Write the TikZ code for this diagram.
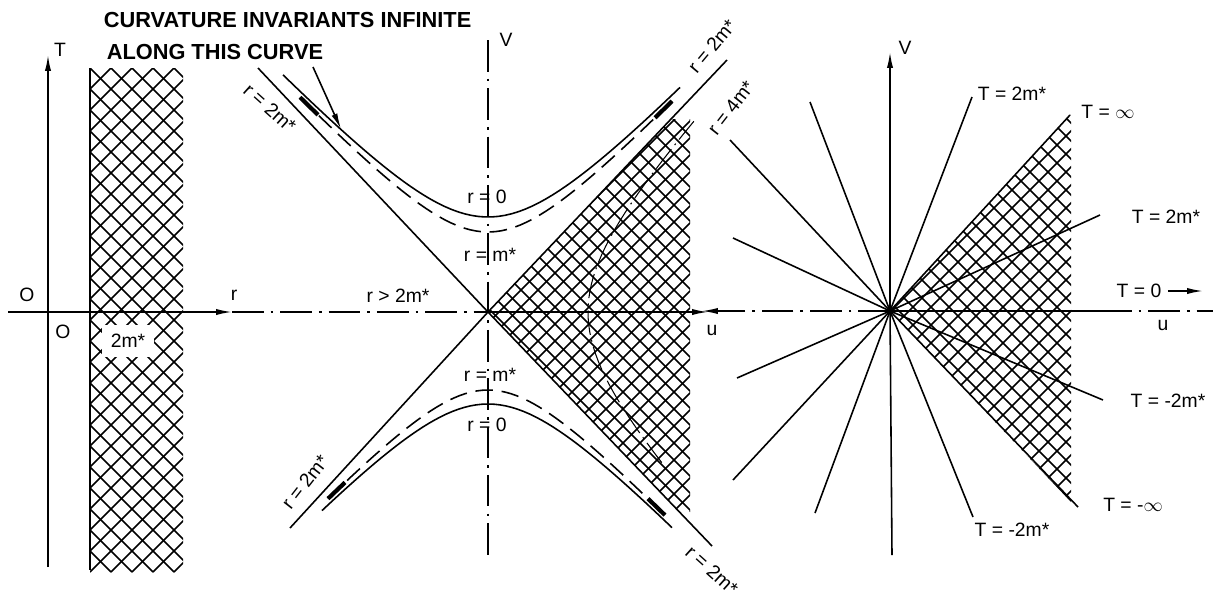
\documentclass[tikz,border=0pt]{standalone}
\usepackage{fontspec}
\setmainfont{Liberation Sans}
\usetikzlibrary{arrows.meta}

\tikzset{
  axisdd/.style={line width=0.8pt, dash pattern=on 18pt off 4pt on 1.5pt off 4pt},
  hatchline/.style={line width=0.85pt},
  hypdash/.style={dash pattern=on 10pt off 5pt},
  thinddash/.style={line width=0.6pt, dash pattern=on 14pt off 3pt on 1pt off 3pt},
  tipend/.style={line width=2.4pt},
  lbl/.style={font=\fontsize{11}{13}\selectfont, inner sep=1pt},
  ttl/.style={font=\fontsize{12.4}{14}\selectfont\bfseries, inner sep=0pt, anchor=west},
}

\begin{document}
\begin{tikzpicture}[x=0.02cm, y=-0.02cm, line width=0.9pt, >={Latex[length=9pt,width=3.5pt]}]
    \useasboundingbox (0,0) rectangle (1213,606);
    % Title and pointer
    \node[ttl] (ttl1) at (103,20) {CURVATURE INVARIANTS INFINITE};
    \node[ttl] (ttl2) at (106,52) {ALONG THIS CURVE};
    \coordinate (p1) at (313,67); \coordinate (c1) at (341,129);
    \draw[->] (p1) -- (c1);

    % Left panel: T against r
    \coordinate (Tb) at (48,567); \coordinate (Tt) at (48,55);
    \coordinate (rl) at (8,312); \coordinate (rr) at (232,312);
    \draw[->] (Tb) -- (Tt);
    \draw[->] (rl) -- (rr);
    \node[lbl] (Tlab) at (60,50) {T};
    \node[lbl] (Oa) at (27,295) {O};
    \node[lbl] (Ob) at (63,332) {O};
    \node[lbl] (rlab) at (234,295) {r};
    \begin{scope}
        \clip (90,68) rectangle (183,572);
        \foreach \c in {-482,-461,...,115} \draw[hatchline] (\c+68,68) -- (\c+572,572);
        \foreach \c in {158,179,...,760} \draw[hatchline] (\c-68,68) -- (\c-572,572);
    \end{scope}
    \draw (90,68) -- (90,570);
    \node[lbl, fill=white, inner sep=5pt] (two) at (128,341) {2m*};

    % Middle panel: u, V
    \coordinate (O1) at (488,312);
    \coordinate (A1) at (258,68); \coordinate (A2) at (727,60);
    \coordinate (A3) at (290,528); \coordinate (A4) at (712,546);
    \coordinate (Vt) at (488,40); \coordinate (Vb) at (488,555);
    \coordinate (ur) at (708,312);
    \begin{scope}
        \clip (O1) -- (671,119) -- (690,119) -- (690,512) -- (679,512) -- cycle;
        \foreach \c in {-24,-7,...,575} \draw[hatchline] (\c+119,119) -- (\c+512,512);
        \foreach \c in {607,624,...,1205} \draw[hatchline] (\c-119,119) -- (\c-512,512);
    \end{scope}
    \draw[axisdd] (rr) -- (O1);
    \draw[axisdd] (Vt) -- (Vb);
    \draw[->] (O1) -- (ur);
    \draw (A1) -- (O1) -- (A4);
    \draw (A3) -- (O1) -- (A2);
    % hyperbolas r=0 and r=m*
    \draw plot[domain=283:680, samples=60] (\x, {312-100*sqrt(0.95^2+(1.06*(\x-488)/100)^2)});
    \draw[hypdash] plot[domain=300:672, samples=60] (\x, {312-100*sqrt(0.8^2+(1.06*(\x-488)/100)^2)});
    \draw plot[domain=322:672, samples=60] (\x, {312+100*sqrt(0.92^2+(1.06*(\x-488)/100)^2)});
    \draw[hypdash] plot[domain=328:665, samples=60] (\x, {312+100*sqrt(0.78^2+(1.06*(\x-488)/100)^2)});
    \foreach \a/\b/\s/\q in {300/318/-1/0.8, 655/672/-1/0.8, 328/345/1/0.78, 648/665/1/0.78}
        \draw[tipend] plot[domain=\a:\b, samples=5] (\x, {312+\s*100*sqrt(\q^2+(1.06*(\x-488)/100)^2)});
    % r=4m*
    \draw[thinddash] plot[domain=-1.15:1.35, samples=40] ({488+100*cosh(\x)}, {312-106*sinh(\x)});
    \node[lbl] (r0u) at (487,197) {r = 0};
    \node[lbl] (rmu) at (490,255) {r = m*};
    \node[lbl] (rml) at (490,375) {r = m*};
    \node[lbl] (r0l) at (487,425) {r = 0};
    \node[lbl] (rgt) at (398,296) {r > 2m*};
    \node[lbl] (Vlab) at (506,40) {V};
    \node[lbl] (ulab) at (712,330) {u};
    \node[lbl, rotate=-42] (l2a) at (270,108) {r = 2m*};
    \node[lbl, rotate=50] (l2b) at (712,46) {r = 2m*};
    \node[lbl, rotate=52] (l4) at (731,108) {r = 4m*};
    \node[lbl, rotate=52] (l2c) at (305,482) {r = 2m*};
    \node[lbl, rotate=-42] (l2d) at (712,570) {r = 2m*};

    % Right panel: lines T = const
    \coordinate (O2) at (890,311);
    \begin{scope}
        \clip (O2) -- (1071,114) -- (1071,502) -- cycle;
        \foreach \c in {390,408,...,960} \draw[hatchline] (\c+114,114) -- (\c+502,502);
        \foreach \c in {1004,1022,...,1575} \draw[hatchline] (\c-114,114) -- (\c-502,502);
    \end{scope}
    \foreach \n/\x/\y in {a/733/238, b/730/140, c/810/102, d/737/378, e/733/480, f/815/513,
        g/972/97, h/1070/115, i/1100/215, j/1103/400, k/1078/507, l/973/517}
        \coordinate (R\n) at (\x,\y);
    \foreach \n in {a,b,c,d,e,f,g,h,i,j,k,l} \draw (O2) -- (R\n);
    \coordinate (V2t) at (890,52); \coordinate (V2b) at (892,555);
    \coordinate (ul) at (702,311); \coordinate (um) at (1100,311); \coordinate (ue) at (1213,311);
    \draw[->] (O2) -- (V2t);
    \draw (O2) -- (V2b);
    \draw[axisdd, ->] (O2) -- (ul);
    \draw (O2) -- (um);
    \draw[axisdd] (um) -- (ue);
    \node[lbl] (V2lab) at (905,48) {V};
    \node[lbl] (u3lab) at (1163,325) {u};
    \node[lbl] (Ta) at (1012,94) {T = 2m*};
    \node[lbl] (Tinf) at (1108,112) {T = $\infty$};
    \node[lbl] (Tb) at (1166,217) {T = 2m*};
    \node[lbl] (T0) at (1139,291) {T = 0};
    \coordinate (T0a) at (1203,291);
    \draw[->] (T0.east) ++(4,0) -- (T0a);
    \node[lbl] (Tc) at (1168,401) {T = -2m*};
    \node[lbl] (Tminf) at (1133,505) {T = -$\infty$};
    \node[lbl] (Td) at (1012,530) {T = -2m*};
\end{tikzpicture}
\end{document}
